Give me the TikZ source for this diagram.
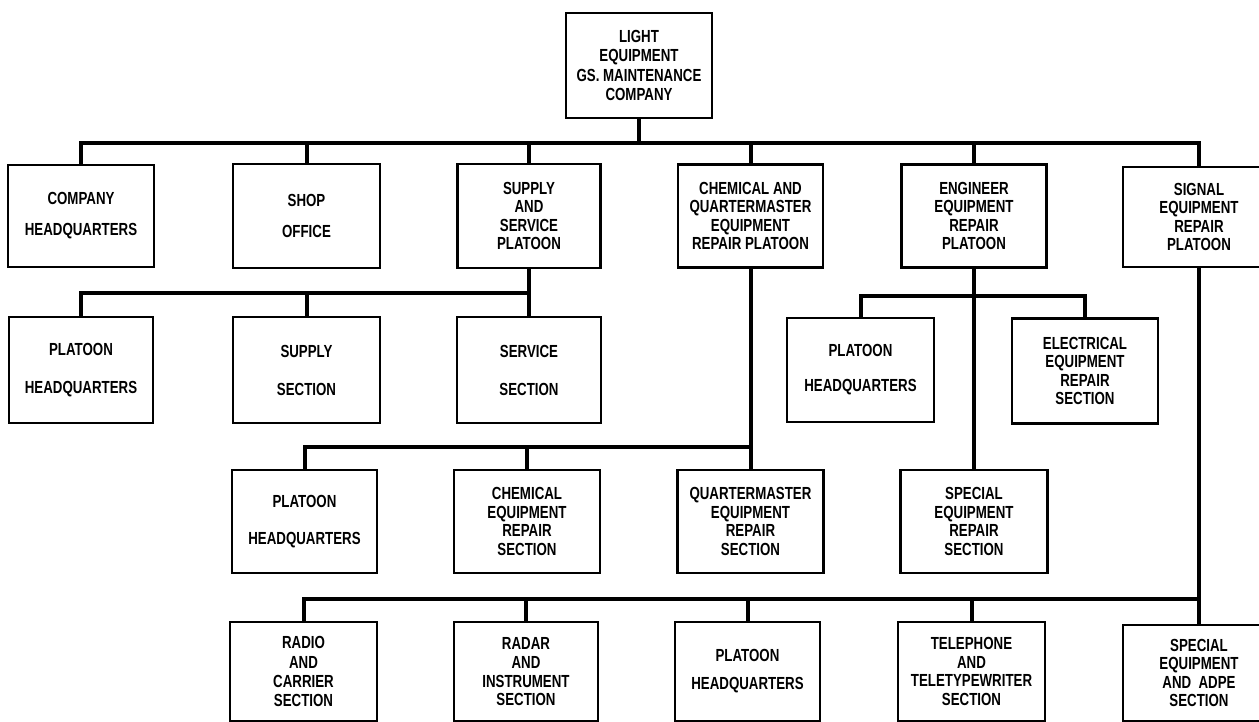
\documentclass[tikz,border=0pt]{standalone}
\usepackage{fontspec}
\setmainfont{Liberation Sans}[FakeStretch=0.76]
\begin{document}
\begin{tikzpicture}[x=1pt,y=-1pt,
  box/.style={draw=black, line width=2.2pt, fill=white, inner sep=0pt,
    align=center, font=\fontsize{17.5}{18.5}\selectfont\bfseries},
  conn/.style={line width=4pt, line cap=rect}]
\useasboundingbox (0,0) rectangle (1259,722);

% company
\node[box, minimum width=146pt, minimum height=105pt] (top) at (639,65.5)
  {LIGHT\\[0pt]EQUIPMENT\\[2pt]GS. MAINTENANCE\\[0pt]COMPANY};

% platoons and company sections
\node[box, minimum width=146pt, minimum height=102pt] (chq) at (81,216) {COMPANY\\[12.5pt]HEADQUARTERS};
\node[box, minimum width=147pt, minimum height=104pt] (shop) at (306.5,216) {SHOP\\[12.5pt]OFFICE};
\node[box, minimum width=143pt, minimum height=104pt] (supply) at (529,216) {SUPPLY\\AND\\SERVICE\\PLATOON};
\node[box, minimum width=145pt, minimum height=103pt] (chem) at (750.5,216) {CHEMICAL AND\\QUARTERMASTER\\EQUIPMENT\\REPAIR PLATOON};
\node[box, minimum width=145pt, minimum height=103pt] (eng) at (974,216) {ENGINEER\\EQUIPMENT\\REPAIR\\PLATOON};
\node[box, minimum width=152pt, minimum height=100pt] (sig) at (1199,217) {SIGNAL\\EQUIPMENT\\REPAIR\\PLATOON};

% supply and service platoon
\node[box, minimum width=144pt, minimum height=106pt] (phqa) at (81,370) {PLATOON\\[19.5pt]HEADQUARTERS};
\node[box, minimum width=147pt, minimum height=106pt] (supsec) at (306.5,370) {SUPPLY\\[19.5pt]SECTION};
\node[box, minimum width=144pt, minimum height=106pt] (servsec) at (529,370) {SERVICE\\[19.5pt]SECTION};

% engineer equipment repair platoon
\node[box, minimum width=147pt, minimum height=104pt] (phqb) at (860.5,370) {PLATOON\\[16.5pt]HEADQUARTERS};
\node[box, minimum width=146pt, minimum height=105pt] (elec) at (1085,371) {ELECTRICAL\\EQUIPMENT\\REPAIR\\SECTION};
\node[box, minimum width=147pt, minimum height=103pt] (spec) at (974,521.5) {SPECIAL\\EQUIPMENT\\REPAIR\\SECTION};

% chemical and quartermaster equipment repair platoon
\node[box, minimum width=145pt, minimum height=103pt] (phqc) at (304.5,521.5) {PLATOON\\[18.5pt]HEADQUARTERS};
\node[box, minimum width=146pt, minimum height=103pt] (chemeq) at (527,521.5) {CHEMICAL\\EQUIPMENT\\REPAIR\\SECTION};
\node[box, minimum width=146pt, minimum height=103pt] (qm) at (750.5,521.5) {QUARTERMASTER\\EQUIPMENT\\REPAIR\\SECTION};

% signal equipment repair platoon
\node[box, minimum width=147pt, minimum height=99pt] (radio) at (303.5,671.5) {RADIO\\[1pt]AND\\[1pt]CARRIER\\SECTION};
\node[box, minimum width=144pt, minimum height=99pt] (radar) at (526,671.5) {RADAR\\[1pt]AND\\INSTRUMENT\\SECTION};
\node[box, minimum width=145pt, minimum height=99pt] (phqd) at (747.5,671.5) {PLATOON\\[9.5pt]HEADQUARTERS};
\node[box, minimum width=147pt, minimum height=99pt] (tel) at (971.5,671.5) {TELEPHONE\\AND\\TELETYPEWRITER\\SECTION};
\node[box, minimum width=152pt, minimum height=96pt] (adpe) at (1199,673) {SPECIAL\\EQUIPMENT\\AND~~ADPE\\SECTION};

% connectors
\coordinate (b0) at (639,143);
\draw[conn] (top.south) -- (b0);
\draw[conn] (chq.north) |- (b0) -| (sig.north);
\foreach \n in {shop,supply,chem,eng} \draw[conn] (\n.north) -- (\n.north |- b0);

\coordinate (b1) at (529,293);
\draw[conn] (supply.south) -- (servsec.north);
\draw[conn] (phqa.north) |- (b1);
\draw[conn] (supsec.north) -- (supsec.north |- b1);

\coordinate (b2) at (974,296);
\draw[conn] (eng.south) -- (spec.north);
\draw[conn] (phqb.north) |- (b2) -| (elec.north);

\coordinate (b3) at (750.5,447);
\draw[conn] (chem.south) -- (qm.north);
\draw[conn] (phqc.north) |- (b3);
\draw[conn] (chemeq.north) -- (chemeq.north |- b3);

\coordinate (b4) at (1199,599);
\draw[conn] (sig.south) -- (adpe.north);
\draw[conn] (radio.north) |- (b4);
\foreach \n in {radar,phqd,tel} \draw[conn] (\n.north) -- (\n.north |- b4);
\end{tikzpicture}
\end{document}
